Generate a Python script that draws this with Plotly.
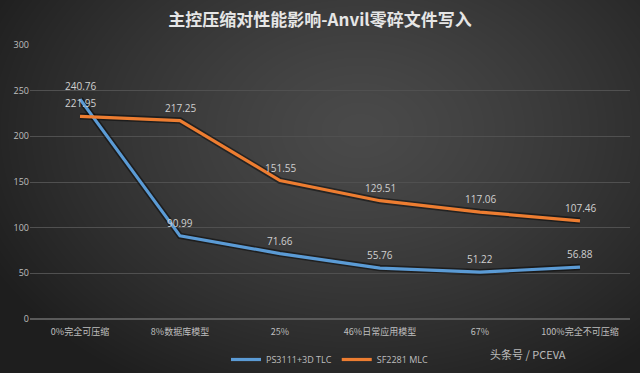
import base64, struct, zlib
import numpy as np
import plotly.graph_objects as go

categories = ["0%完全可压缩", "8%数据库模型", "25%", "46%日常应用模型", "67%", "100%完全不可压缩"]
ps3111 = [240.76, 90.99, 71.66, 55.76, 51.22, 56.88]
sf2281 = [221.95, 217.25, 151.55, 129.51, 117.06, 107.46]
series_names = ["PS3111+3D TLC", "SF2281 MLC"]
y_ticks = [0, 50, 100, 150, 200, 250, 300]

W, H = 640, 373
L, R, T, B = 30, 10, 45, 54


def png_uri(arr):
    h, w, c = arr.shape
    raw = b"".join(b"\x00" + arr[r].tobytes() for r in range(h))

    def chunk(t, data):
        cc = struct.pack(">I", len(data)) + t + data
        return cc + struct.pack(">I", zlib.crc32(t + data) & 0xffffffff)
    png = (b"\x89PNG\r\n\x1a\n" + chunk(b"IHDR", struct.pack(">IIBBBBB", w, h, 8, 2, 0, 0, 0))
           + chunk(b"IDAT", zlib.compress(raw, 9)) + chunk(b"IEND", b""))
    return "data:image/png;base64," + base64.b64encode(png).decode()


# radial gradient background
yy, xx = np.mgrid[0:H, 0:W].astype(float)
d = np.clip(np.sqrt(((xx - 360) / 420) ** 2 + ((yy - 130) / 300) ** 2), 0, 1)
v = (74 - 44 * d ** 1.3).astype(np.uint8)
bg_uri = png_uri(np.stack([v, v, v], axis=-1))

pw, ph = W - L - R, H - T - B


def px(x):
    return (x - L) / pw


def py(y):
    return (T + ph - y) / ph


fig = go.Figure()
for vals in (ps3111, sf2281):
    fig.add_trace(go.Scatter(x=categories, y=vals, mode="lines", showlegend=False,
                             hoverinfo="skip",
                             line=dict(color="rgba(0,0,0,0.45)", width=6.5)))
colors = ["#5B9BD5", "#ED7D31"]
for name, vals, col in zip(series_names, (ps3111, sf2281), colors):
    fig.add_trace(go.Scatter(x=categories, y=vals, name=name, mode="lines",
                             line=dict(color=col, width=3.2)))
    for c, v in zip(categories, vals):
        fig.add_annotation(x=c, y=v, text=f"{v:.2f}", showarrow=False, yshift=13,
                           font=dict(color="#d0d0d0", size=10, family="Open Sans"))

fig.update_layout(
    width=W, height=H,
    margin=dict(l=L, r=R, t=T, b=B, autoexpand=False),
    paper_bgcolor="#2e2e2e", plot_bgcolor="rgba(0,0,0,0)",
    title=dict(text="<b>主控压缩对性能影响-Anvil零碎文件写入</b>", x=0.5, xanchor="center",
               y=1 - 20 / H, yanchor="middle",
               font=dict(family="Noto Sans CJK SC", size=17, color="#e6e6e6")),
    font=dict(family="Noto Sans CJK SC", color="#bfbfbf", size=9),
    showlegend=True,
    legend=dict(orientation="h", x=0.5, xanchor="center", y=py(345), yanchor="top",
                font=dict(size=9, color="#bfbfbf", family="Open Sans"),
                bgcolor="rgba(0,0,0,0)"),
    images=[dict(source=bg_uri, xref="paper", yref="paper",
                 x=px(0), y=py(0), sizex=W / pw, sizey=H / ph,
                 xanchor="left", yanchor="top", sizing="stretch", layer="below")],
)
fig.update_xaxes(type="category", range=[-0.5, 5.5], showgrid=False, showline=False,
                 zeroline=False, ticks="", ticklabelstandoff=6,
                 tickfont=dict(size=9, color="#bfbfbf"))
fig.update_yaxes(range=[0, 300], tickvals=y_ticks, showgrid=True, gridcolor="#505050",
                 gridwidth=1, zeroline=True, zerolinecolor="#5a5a5a", showline=False,
                 ticks="", tickfont=dict(size=9, color="#bfbfbf", family="Open Sans"))

# source credit
fig.add_annotation(xref="paper", yref="paper", x=px(568), y=py(364),
                   text="头条号 / PCEVA", showarrow=False,
                   font=dict(family="Noto Sans CJK SC", size=11, color="rgba(255,255,255,0.7)"))

fig.write_html("out.html", config={"displayModeBar": False},
               post_script="document.body.style.margin='0';document.body.style.padding='0';")
